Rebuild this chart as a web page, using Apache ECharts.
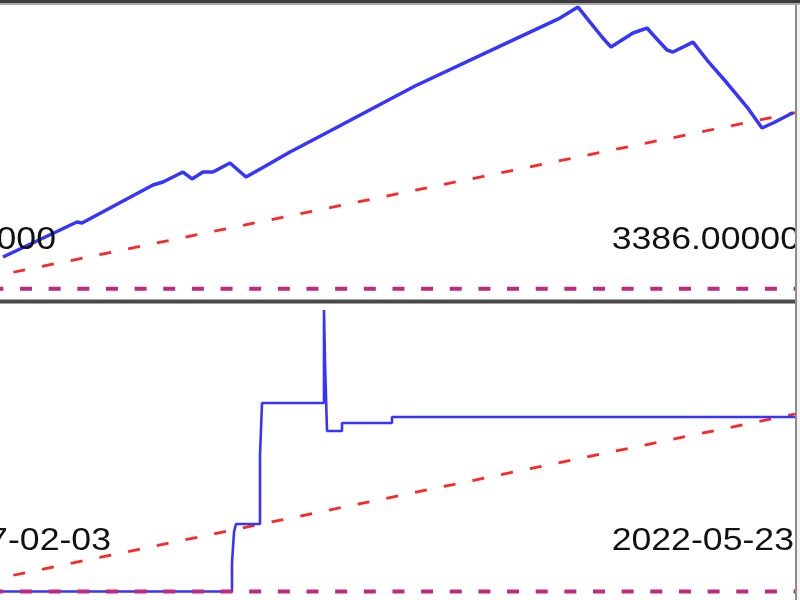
<!DOCTYPE html>
<html>
<head>
<meta charset="utf-8">
<script src="https://cdn.jsdelivr.net/npm/echarts@6/dist/echarts.min.js"></script>
<style>
html,body{margin:0;padding:0;background:#fff;}
#c{width:800px;height:600px;}
</style>
</head>
<body>
<div id="c"></div>
<script>
// ---- top panel: equity curve ----
const topDays   = [3, 77, 82, 153, 163, 183, 192, 203, 213, 230, 246, 262, 290, 330, 415, 515, 560, 578, 590, 602, 611, 633, 647, 655, 667, 673, 693, 707, 727, 747, 762, 773, 793];
const topEquity = [610, 1283, 1264, 1995, 2053, 2245, 2111, 2245, 2245, 2418, 2149, 2322, 2630, 3034, 3900, 4804, 5208, 5420, 5131, 4843, 4650, 4920, 5016, 4843, 4593, 4554, 4746, 4400, 3958, 3496, 3092, 3188, 3386];
const topTrendDays  = [0, 795];
const topTrendVals  = [264, 3386];
const topBaseVal    = 0;

// ---- bottom panel: step curve ----
const botDays   = [0, 232, 234, 236, 260, 262, 324, 325, 327, 342, 392, 795];
const botValues = [0, 285, 595, 675, 1365, 1885, 2815, 2295, 1605, 1685, 1745, 1755];
const botTrendDays = [0, 795];
const botTrendVals = [135, 1775];
const botBaseVal   = 0;

// ---- labels ----
const topLeftLabel  = "1000.00000";
const topRightLabel = "3386.00000";
const botLeftLabel  = "2017-02-03";
const botRightLabel = "2022-05-23";

const pairs = (xs, ys) => xs.map((x, i) => [x, ys[i]]);
const xMin = 0, xMax = 795;

const chart = echarts.init(document.getElementById('c'), null, {renderer: 'canvas'});
const hiddenAxis = {show: false, splitLine: {show: false}, axisLine: {show: false}, axisTick: {show: false}, axisLabel: {show: false}};

const blue = '#3535ff', red = '#ff2626', purple = '#c02a7c';
const textFont = '31px "Liberation Sans", Arial, sans-serif';

chart.setOption({
  animation: false,
  backgroundColor: '#ffffff',
  grid: [
    {left: 0, right: 5, top: 6, height: 291},
    {left: 0, right: 5, top: 305, bottom: 0}
  ],
  xAxis: [
    Object.assign({type: 'value', gridIndex: 0, min: xMin, max: xMax}, hiddenAxis),
    Object.assign({type: 'value', gridIndex: 1, min: xMin, max: xMax}, hiddenAxis)
  ],
  yAxis: [
    Object.assign({type: 'value', gridIndex: 0, min: -160, max: 5440}, hiddenAxis),
    Object.assign({type: 'value', gridIndex: 1, min: -85, max: 2865}, hiddenAxis)
  ],
  series: [
    {type: 'line', xAxisIndex: 0, yAxisIndex: 0, data: pairs(topTrendDays, topTrendVals), symbol: 'none', z: 2,
     lineStyle: {color: red, width: 2.8, type: [12, 17.3], dashOffset: 15.7}},
    {type: 'line', xAxisIndex: 0, yAxisIndex: 0, data: pairs(topDays, topEquity), symbol: 'none', z: 3,
     lineStyle: {color: blue, width: 3.5}},
    {type: 'line', xAxisIndex: 0, yAxisIndex: 0, data: pairs([xMin, xMax], [topBaseVal, topBaseVal]), symbol: 'none', z: 4,
     lineStyle: {color: purple, width: 4, type: [12, 16.65], dashOffset: 8.65}},

    {type: 'line', xAxisIndex: 1, yAxisIndex: 1, data: pairs(botTrendDays, botTrendVals), symbol: 'none', z: 2,
     lineStyle: {color: red, width: 2.8, type: [12, 17.3], dashOffset: 15.7}},
    {type: 'line', xAxisIndex: 1, yAxisIndex: 1, data: pairs(botDays, botValues), symbol: 'none', step: 'end', z: 3,
     lineStyle: {color: blue, width: 2.6}},
    {type: 'line', xAxisIndex: 1, yAxisIndex: 1, data: pairs([xMin, xMax], [botBaseVal, botBaseVal]), symbol: 'none', z: 4,
     lineStyle: {color: purple, width: 4, type: [12, 16.65], dashOffset: 8.65}}
  ],
  graphic: [
    {type: 'text', x: 56, y: 240, scaleX: 1.15, z: 50,
     style: {text: topLeftLabel, font: textFont, fill: '#111', textAlign: 'right', textVerticalAlign: 'middle', verticalAlign: 'middle'}},
    {type: 'text', x: 800, y: 240, scaleX: 1.15, z: 50,
     style: {text: topRightLabel, font: textFont, fill: '#111', textAlign: 'right', textVerticalAlign: 'middle', verticalAlign: 'middle'}},
    {type: 'text', x: 111, y: 541, scaleX: 1.15, z: 50,
     style: {text: botLeftLabel, font: textFont, fill: '#111', textAlign: 'right', textVerticalAlign: 'middle', verticalAlign: 'middle'}},
    {type: 'text', x: 794, y: 541, scaleX: 1.15, z: 50,
     style: {text: botRightLabel, font: textFont, fill: '#111', textAlign: 'right', textVerticalAlign: 'middle', verticalAlign: 'middle'}},

    // frame pieces
    {type: 'rect', z: 100, shape: {x: 0, y: 0, width: 800, height: 3}, style: {fill: '#3c3c3c'}},
    {type: 'rect', z: 100, shape: {x: 0, y: 3, width: 800, height: 2}, style: {fill: '#a8a8a8'}},
    {type: 'rect', z: 100, shape: {x: 0, y: 299, width: 800, height: 1}, style: {fill: '#a8a8a8'}},
    {type: 'rect', z: 100, shape: {x: 0, y: 300, width: 800, height: 3}, style: {fill: '#4a4a4a'}},
    {type: 'rect', z: 100, shape: {x: 0, y: 303, width: 800, height: 1}, style: {fill: '#a0a0a0'}},
    {type: 'rect', z: 100, shape: {x: 797, y: 5, width: 3, height: 595}, style: {fill: '#f2f2f2'}},
    {type: 'rect', z: 101, shape: {x: 795, y: 5, width: 2, height: 595}, style: {fill: '#8c8c8c'}}
  ]
});
</script>
</body>
</html>
